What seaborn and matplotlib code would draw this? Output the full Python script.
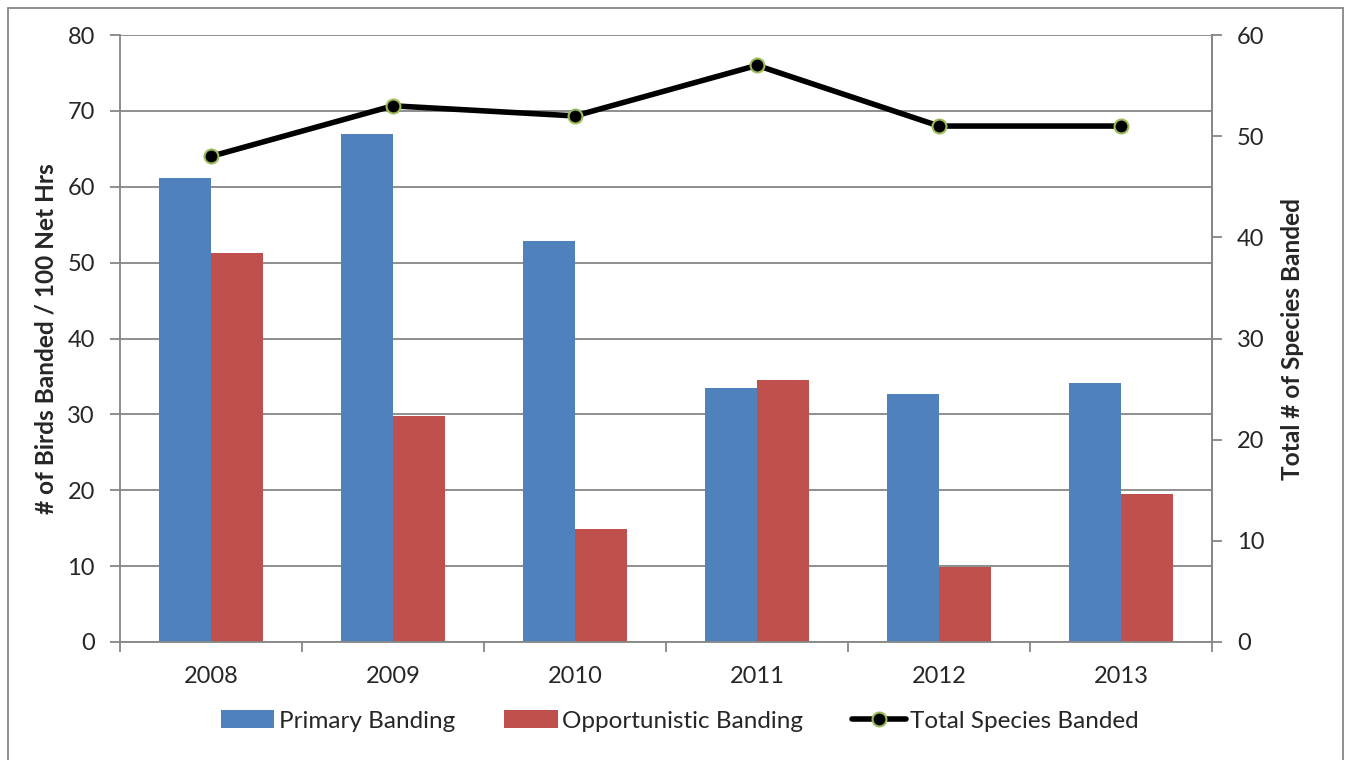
import matplotlib
matplotlib.use("Agg")
import matplotlib.pyplot as plt
from matplotlib.lines import Line2D
from matplotlib.patches import Rectangle
from matplotlib.ticker import FixedLocator
import numpy as np
import pandas as pd
import seaborn as sns

# Banding effort by year
years = ["2008", "2009", "2010", "2011", "2012", "2013"]
primary_banding = [61.1, 67.0, 52.9, 33.5, 32.7, 34.1]
opportunistic_banding = [51.3, 29.8, 14.9, 34.5, 9.9, 19.5]
total_species = [48, 53, 52, 57, 51, 51]

series_names = ["Primary Banding", "Opportunistic Banding"]
line_name = "Total Species Banded"
left_ticks = [0, 10, 20, 30, 40, 50, 60, 70, 80]
right_ticks = [0, 10, 20, 30, 40, 50, 60]

blue = "#4f81bd"
red = "#c0504d"
grid_gray = "#868686"
marker_edge = "#9bbb59"

df = pd.DataFrame({
    "Year": years * 2,
    "Rate": primary_banding + opportunistic_banding,
    "Series": [series_names[0]] * len(years) + [series_names[1]] * len(years),
})

sns.set_theme(style="white")
plt.rcParams["font.family"] = ["Lato", "DejaVu Sans"]

fig = plt.figure(figsize=(13.49, 7.60), dpi=100)
ax = fig.add_axes([120 / 1349, 1 - 642 / 760, (1212 - 120) / 1349, (642 - 35) / 760])

sns.barplot(data=df, x="Year", y="Rate", hue="Series", order=years,
            hue_order=series_names, palette=[blue, red], width=0.566,
            linewidth=0, saturation=1, ax=ax, legend=False)

ax.set_xlim(-0.5, len(years) - 0.5)
ax.set_ylim(left_ticks[0], left_ticks[-1])
ax.set_yticks(left_ticks)
ax.set_axisbelow(True)
ax.yaxis.grid(True, color=grid_gray, linewidth=1.3)
ax.set_xlabel("")
ax.set_ylabel("# of Birds Banded / 100 Net Hrs", fontsize=17.6,
              fontweight="bold", labelpad=7)

# category boundary tick marks along the x axis
ax.xaxis.set_minor_locator(FixedLocator(np.arange(-0.5, len(years), 1.0)))
ax.tick_params(axis="x", which="major", length=0, pad=17, labelsize=17)
ax.tick_params(axis="x", which="minor", length=7, width=1.3, color=grid_gray,
               direction="out", bottom=True)
ax.tick_params(axis="y", length=7, width=1.3, color=grid_gray, direction="out",
               left=True, labelsize=17, pad=11)

for side in ["left", "bottom", "right"]:
    ax.spines[side].set_color(grid_gray)
    ax.spines[side].set_linewidth(1.3)
ax.spines["top"].set_visible(False)

ax2 = ax.twinx()
positions = np.arange(len(years))
sns.lineplot(x=positions, y=total_species, ax=ax2, color="black", linewidth=4,
             marker="o", markersize=10, markerfacecolor="black",
             markeredgecolor=marker_edge, markeredgewidth=1.5)
ax2.set_ylim(right_ticks[0], right_ticks[-1])
ax2.set_yticks(right_ticks)
ax2.set_ylabel("Total # of Species Banded", fontsize=17.6, fontweight="bold",
               labelpad=12)
ax2.tick_params(axis="y", length=7, width=1.3, color=grid_gray, direction="out",
                right=True, labelsize=17, pad=11)
ax2.grid(False)
for side in ["left", "bottom", "right", "top"]:
    ax2.spines[side].set_visible(side == "right")
ax2.spines["right"].set_color(grid_gray)
ax2.spines["right"].set_linewidth(1.3)

handles = [
    Rectangle((0, 0), 1, 1, facecolor=blue, edgecolor="none"),
    Rectangle((0, 0), 1, 1, facecolor=red, edgecolor="none"),
    Line2D([], [], color="black", linewidth=4, marker="o", markersize=10,
           markerfacecolor="black", markeredgecolor=marker_edge,
           markeredgewidth=1.5),
]
fig.legend(handles, series_names + [line_name], loc="center",
           bbox_to_anchor=(680 / 1349, 1 - 721 / 760), ncol=3, frameon=False,
           fontsize=17.5, handlelength=2.2, handleheight=0.7,
           columnspacing=2.0, handletextpad=0.2)

# outer chart frame
fig.patches.append(Rectangle((8 / 1349, -0.01), (1343 - 8) / 1349, 1 - 8 / 760 + 0.01,
                             transform=fig.transFigure, fill=False,
                             edgecolor=grid_gray, linewidth=1.3))

fig.savefig("out.png", dpi=100)
